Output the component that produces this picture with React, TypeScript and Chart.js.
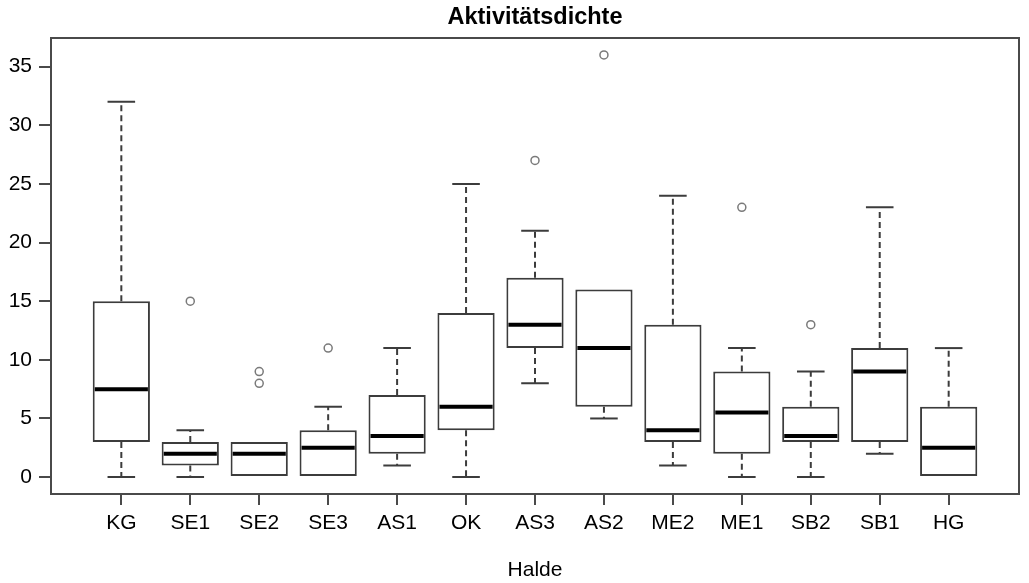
import React, { useEffect, useRef } from "react";
import { Chart, registerables } from "chart.js";

Chart.register(...registerables);

// ---- data ----
const categories = ["KG", "SE1", "SE2", "SE3", "AS1", "OK", "AS3", "AS2", "ME2", "ME1", "SB2", "SB1", "HG"];
const whiskerLow = [0, 0, 0, 0, 1, 0, 8, 5, 1, 0, 0, 2, 0];
const quartile1 = [3, 1, 0, 0, 2, 4, 11, 6, 3, 2, 3, 3, 0];
const medians = [7.5, 2, 2, 2.5, 3.5, 6, 13, 11, 4, 5.5, 3.5, 9, 2.5];
const quartile3 = [15, 3, 3, 4, 7, 14, 17, 16, 13, 9, 6, 11, 6];
const whiskerHigh = [32, 4, 3, 6, 11, 25, 21, 16, 24, 11, 9, 23, 11];
const outlierCategory = ["SE1", "SE2", "SE2", "SE3", "AS3", "AS2", "ME1", "SB2"];
const outlierValue = [15, 8, 9, 11, 27, 36, 23, 13];
const yTickValues = [0, 5, 10, 15, 20, 25, 30, 35];

const FONT = "'Liberation Sans', Arial, Helvetica, sans-serif";
const BOX_WIDTH = 0.8; // in category units (R boxwex)
const CAP_WIDTH = 0.4; // staple width in category units

const boxExtras = {
  id: "boxExtras",
  afterDatasetsDraw(chart: any) {
    const { ctx, scales } = chart;
    const x = scales.x;
    const y = scales.y;
    ctx.save();
    categories.forEach((_, i) => {
      const pos = i + 1;
      const cx = x.getPixelForValue(pos);
      const capL = x.getPixelForValue(pos - CAP_WIDTH / 2);
      const capR = x.getPixelForValue(pos + CAP_WIDTH / 2);
      const boxL = x.getPixelForValue(pos - BOX_WIDTH / 2);
      const boxR = x.getPixelForValue(pos + BOX_WIDTH / 2);
      const hasHigh = whiskerHigh[i] > quartile3[i];
      const hasLow = whiskerLow[i] < quartile1[i];
      // whiskers (dashed)
      ctx.strokeStyle = "#3c3c3c";
      ctx.lineWidth = 2;
      ctx.setLineDash([6, 4]);
      ctx.beginPath();
      if (hasHigh) {
        ctx.moveTo(cx, y.getPixelForValue(quartile3[i]));
        ctx.lineTo(cx, y.getPixelForValue(whiskerHigh[i]));
      }
      if (hasLow) {
        ctx.moveTo(cx, y.getPixelForValue(quartile1[i]));
        ctx.lineTo(cx, y.getPixelForValue(whiskerLow[i]));
      }
      ctx.stroke();
      // caps
      ctx.setLineDash([]);
      ctx.beginPath();
      if (hasHigh) {
        ctx.moveTo(capL, y.getPixelForValue(whiskerHigh[i]));
        ctx.lineTo(capR, y.getPixelForValue(whiskerHigh[i]));
      }
      if (hasLow) {
        ctx.moveTo(capL, y.getPixelForValue(whiskerLow[i]));
        ctx.lineTo(capR, y.getPixelForValue(whiskerLow[i]));
      }
      ctx.stroke();
      // median
      ctx.strokeStyle = "#000";
      ctx.lineWidth = 4;
      ctx.beginPath();
      ctx.moveTo(boxL + 1, y.getPixelForValue(medians[i]));
      ctx.lineTo(boxR - 1, y.getPixelForValue(medians[i]));
      ctx.stroke();
    });
    ctx.restore();
  },
  afterDraw(chart: any) {
    const { ctx, chartArea } = chart;
    ctx.save();
    ctx.strokeStyle = "#4a4a4a";
    ctx.lineWidth = 2;
    ctx.strokeRect(chartArea.left, chartArea.top, chartArea.right - chartArea.left, chartArea.bottom - chartArea.top);
    ctx.restore();
  },
};

export default function App() {
  const ref = useRef<HTMLCanvasElement>(null);

  useEffect(() => {
    const canvas = ref.current;
    if (!canvas) return;
    const boxData = categories.map((_, i) => ({ x: i + 1, y: [quartile1[i], quartile3[i]] }));
    const outlierData = outlierCategory.map((c, i) => ({ x: categories.indexOf(c) + 1, y: outlierValue[i] }));

    const chart = new Chart(canvas, {
      type: "bar",
      data: {
        datasets: [
          {
            type: "bar",
            data: boxData as any,
            backgroundColor: "#ffffff",
            borderColor: "#3c3c3c",
            borderWidth: 2,
            borderSkipped: false,
            barPercentage: 0.83,
            categoryPercentage: 1,
          } as any,
          {
            type: "scatter",
            data: outlierData as any,
            pointStyle: "circle",
            pointRadius: 4,
            pointBorderColor: "#7a7a7a",
            pointBorderWidth: 1.5,
            pointBackgroundColor: "rgba(0,0,0,0)",
            showLine: false,
          } as any,
        ],
      },
      options: {
        responsive: false,
        animation: false,
        events: [],
        layout: { padding: { left: 0, right: 10, top: 0, bottom: 0 } },
        plugins: {
          legend: { display: false },
          tooltip: { enabled: false },
          title: {
            display: true,
            fullSize: false,
            text: "Aktivitätsdichte",
            color: "#000",
            font: { family: FONT, size: 23.5, weight: "bold" },
            padding: { top: 3.5, bottom: 6.3 },
          },
        },
        scales: {
          x: {
            type: "linear",
            offset: false,
            min: -0.02,
            max: 14.02,
            afterBuildTicks: (s: any) => {
              s.ticks = categories.map((_, i) => ({ value: i + 1 }));
            },
            afterFit: (s: any) => {
              s.height = 89;
            },
            ticks: {
              autoSkip: false,
              maxRotation: 0,
              minRotation: 0,
              padding: 6,
              color: "#000",
              font: { family: FONT, size: 21 },
              callback: (v: any) => categories[Number(v) - 1] ?? "",
            },
            grid: {
              display: true,
              offset: false,
              drawOnChartArea: false,
              drawTicks: true,
              tickLength: 11,
              tickColor: "#4a4a4a",
              tickWidth: 2,
              lineWidth: 2,
            },
            border: { display: false },
            title: {
              display: true,
              text: "Halde",
              color: "#000",
              font: { family: FONT, size: 21 },
              padding: { top: 0, bottom: 0 },
            },
          },
          y: {
            type: "linear",
            min: -1.44,
            max: 37.44,
            afterBuildTicks: (s: any) => {
              s.ticks = yTickValues.map((v) => ({ value: v }));
            },
            afterFit: (s: any) => {
              s.width = 51;
            },
            ticks: {
              padding: 7,
              color: "#000",
              font: { family: FONT, size: 21 },
            },
            grid: {
              display: true,
              drawOnChartArea: false,
              drawTicks: true,
              tickLength: 12,
              tickColor: "#4a4a4a",
              tickWidth: 2,
              lineWidth: 2,
            },
            border: { display: false },
          },
        },
      },
      plugins: [boxExtras],
    } as any);

    return () => chart.destroy();
  }, []);

  return (
    <div style={{ position: "fixed", left: 0, top: 0, width: 1029, height: 583, background: "#fff" }}>
      <canvas ref={ref} width={1029} height={583} style={{ display: "block", width: 1029, height: 583 }} />
    </div>
  );
}
